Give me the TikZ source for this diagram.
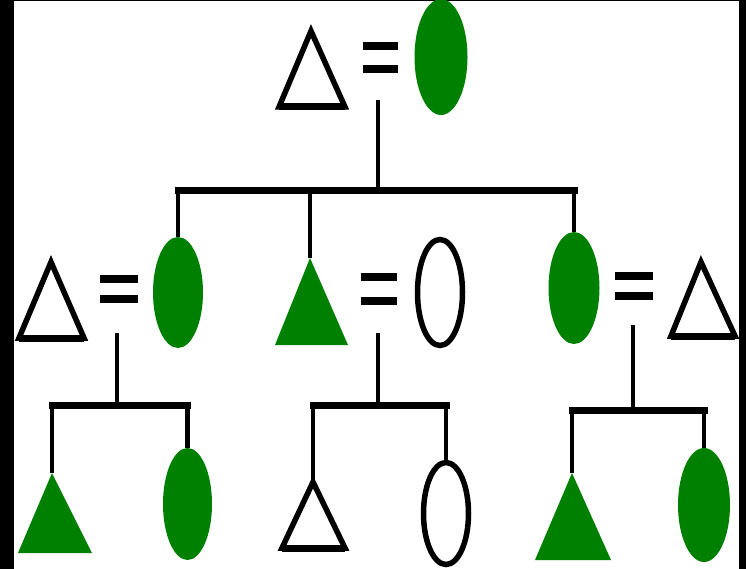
\documentclass[tikz,border=0pt]{standalone}
\usetikzlibrary{shapes.geometric}
\definecolor{pedgreen}{RGB}{0,128,0}
\tikzset{
  femfill/.style={ellipse, fill=pedgreen, draw=none, inner sep=0pt},
  femopen/.style={ellipse, draw=black, line width=5.5pt, fill=white, inner sep=0pt},
  maleopen/.style={draw=black, line width=5.5pt, fill=white, line join=miter},
  malebase/.style={draw=black, line width=7pt, line cap=butt},
  malefill/.style={fill=pedgreen},
  eqbar/.style={draw=black, line width=8pt},
  conn/.style={draw=black, line width=4.5pt},
  sib/.style={draw=black, line width=7pt, line cap=rect},
}
\begin{document}
\begin{tikzpicture}[x=1pt,y=-1pt]
\useasboundingbox (0,0) rectangle (746,569);
\fill[black] (0,0) rectangle (746,569);
\fill[white] (14,1.5) rectangle (739,569);

% ---------- generation I ----------
\coordinate (T0) at (311,31);
\draw[maleopen] (T0) -- (279,107) -- (345,107) -- cycle;
\draw[malebase] (279,107) -- (345,107);
\draw[eqbar] (363,46) -- (398,46) (363,69) -- (398,69);
\node[femfill, minimum width=53pt, minimum height=116pt] (O0) at (441,57) {};
\coordinate (m0) at (378,100);
\coordinate (s0) at (378,191);

% ---------- generation II ----------
\coordinate (T1) at (51,262);
\draw[maleopen] (T1) -- (19,338) -- (84,338) -- cycle;
\draw[malebase] (19,338) -- (84,338);
\draw[eqbar] (100,279) -- (138,279) (100,299) -- (138,299);
\node[femfill, minimum width=50pt, minimum height=111pt] (O1) at (178,292.5) {};
\coordinate (m1) at (117,333);
\coordinate (s1) at (117,405);

\coordinate (T2) at (310,258);
\fill[malefill] (T2) -- (275,345) -- (348,345) -- cycle;
\draw[eqbar] (361,277) -- (397,277) (361,301) -- (397,301);
\node[femopen, minimum width=45pt, minimum height=106pt] (O2) at (440,292.5) {};
\coordinate (m2) at (378,333);
\coordinate (s2) at (378,405);

\node[femfill, minimum width=51pt, minimum height=112pt] (O3) at (574,288) {};
\draw[eqbar] (615,276) -- (653,276) (615,296) -- (653,296);
\coordinate (T3) at (701,262);
\draw[maleopen] (T3) -- (671,336) -- (735,336) -- cycle;
\draw[malebase] (671,336) -- (735,336);
\coordinate (m3) at (633,325);
\coordinate (s3) at (633,410);

% ---------- generation III ----------
\coordinate (T4) at (52,473);
\fill[malefill] (T4) -- (18,553) -- (92,553) -- cycle;
\node[femfill, minimum width=49pt, minimum height=112pt] (O5) at (187.5,504) {};

\coordinate (T6) at (313,482);
\draw[maleopen] (T6) -- (282,548) -- (345,548) -- cycle;
\draw[malebase] (282,548) -- (345,548);
\node[femopen, minimum width=45pt, minimum height=102pt] (O7) at (446,513.5) {};

\coordinate (T8) at (572,473);
\fill[malefill] (T8) -- (535,560) -- (611,560) -- cycle;
\node[femfill, minimum width=52pt, minimum height=114pt] (O9) at (704,505) {};

% ---------- connectors ----------
\draw[conn] (m0) -- (s0);
\draw[sib] (O1.north |- s0) -- (O3.north |- s0);
\draw[conn] (O1.north |- s0) -- (O1.north);
\draw[conn] (T2 |- s0) -- (T2);
\draw[conn] (O3.north |- s0) -- (O3.north);

\draw[conn] (m1) -- (s1);
\draw[sib] (T4 |- s1) -- (O5.north |- s1);
\draw[conn] (T4 |- s1) -- (T4);
\draw[conn] (O5.north |- s1) -- (O5.north);

\draw[conn] (m2) -- (s2);
\draw[sib] (T6 |- s2) -- (O7.north |- s2);
\draw[conn] (T6 |- s2) -- (T6);
\draw[conn] (O7.north |- s2) -- (O7.north);

\draw[conn] (m3) -- (s3);
\draw[sib] (T8 |- s3) -- (O9.north |- s3);
\draw[conn] (T8 |- s3) -- (T8);
\draw[conn] (O9.north |- s3) -- (O9.north);
\end{tikzpicture}
\end{document}
